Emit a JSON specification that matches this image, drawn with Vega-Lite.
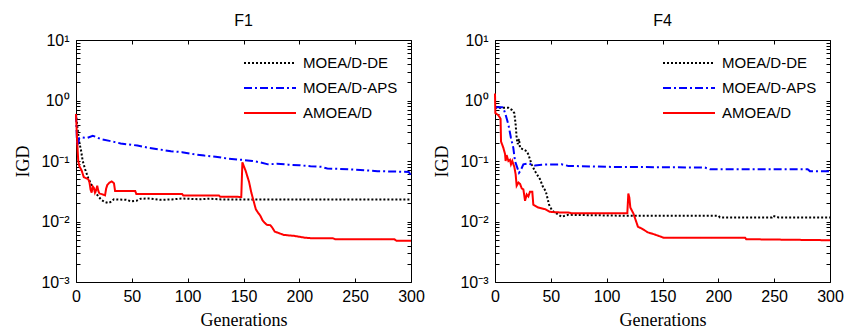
{
  "$schema": "https://vega.github.io/schema/vega-lite/v6.json",
  "background": "white",
  "padding": {"left": 14, "top": 12, "right": 5, "bottom": 0},
  "datasets": {
    "F1": [
      {"algo":"MOEA/D-DE","gen":0,"igd":0.6},{"algo":"MOEA/D-DE","gen":1,"igd":0.4},{"algo":"MOEA/D-DE","gen":2,"igd":0.28},{"algo":"MOEA/D-DE","gen":3,"igd":0.2},{"algo":"MOEA/D-DE","gen":4.5,"igd":0.15},{"algo":"MOEA/D-DE","gen":6,"igd":0.1},{"algo":"MOEA/D-DE","gen":8.4,"igd":0.071},{"algo":"MOEA/D-DE","gen":11,"igd":0.052},{"algo":"MOEA/D-DE","gen":14,"igd":0.04},{"algo":"MOEA/D-DE","gen":17,"igd":0.031},{"algo":"MOEA/D-DE","gen":20,"igd":0.026},{"algo":"MOEA/D-DE","gen":23,"igd":0.0225},{"algo":"MOEA/D-DE","gen":26,"igd":0.021},{"algo":"MOEA/D-DE","gen":29,"igd":0.0202},{"algo":"MOEA/D-DE","gen":31,"igd":0.021},{"algo":"MOEA/D-DE","gen":34,"igd":0.0233},{"algo":"MOEA/D-DE","gen":45,"igd":0.0228},{"algo":"MOEA/D-DE","gen":50,"igd":0.0215},{"algo":"MOEA/D-DE","gen":54,"igd":0.022},{"algo":"MOEA/D-DE","gen":58,"igd":0.0238},{"algo":"MOEA/D-DE","gen":66,"igd":0.024},{"algo":"MOEA/D-DE","gen":75,"igd":0.0228},{"algo":"MOEA/D-DE","gen":86,"igd":0.0232},{"algo":"MOEA/D-DE","gen":95,"igd":0.024},{"algo":"MOEA/D-DE","gen":110,"igd":0.0233},{"algo":"MOEA/D-DE","gen":120,"igd":0.0238},{"algo":"MOEA/D-DE","gen":130,"igd":0.0232},{"algo":"MOEA/D-DE","gen":150,"igd":0.0232},{"algo":"MOEA/D-DE","gen":300,"igd":0.0232},
      {"algo":"MOEA/D-APS","gen":0,"igd":0.6},{"algo":"MOEA/D-APS","gen":1,"igd":0.18},{"algo":"MOEA/D-APS","gen":2,"igd":0.2},{"algo":"MOEA/D-APS","gen":3,"igd":0.24},{"algo":"MOEA/D-APS","gen":6,"igd":0.245},{"algo":"MOEA/D-APS","gen":10,"igd":0.24},{"algo":"MOEA/D-APS","gen":15,"igd":0.26},{"algo":"MOEA/D-APS","gen":18,"igd":0.25},{"algo":"MOEA/D-APS","gen":22,"igd":0.23},{"algo":"MOEA/D-APS","gen":30,"igd":0.215},{"algo":"MOEA/D-APS","gen":35,"igd":0.205},{"algo":"MOEA/D-APS","gen":40,"igd":0.195},{"algo":"MOEA/D-APS","gen":50,"igd":0.185},{"algo":"MOEA/D-APS","gen":55,"igd":0.18},{"algo":"MOEA/D-APS","gen":65,"igd":0.165},{"algo":"MOEA/D-APS","gen":75,"igd":0.155},{"algo":"MOEA/D-APS","gen":85,"igd":0.145},{"algo":"MOEA/D-APS","gen":95,"igd":0.14},{"algo":"MOEA/D-APS","gen":105,"igd":0.13},{"algo":"MOEA/D-APS","gen":115,"igd":0.123},{"algo":"MOEA/D-APS","gen":125,"igd":0.118},{"algo":"MOEA/D-APS","gen":135,"igd":0.11},{"algo":"MOEA/D-APS","gen":145,"igd":0.106},{"algo":"MOEA/D-APS","gen":150,"igd":0.104},{"algo":"MOEA/D-APS","gen":158,"igd":0.1},{"algo":"MOEA/D-APS","gen":165,"igd":0.095},{"algo":"MOEA/D-APS","gen":172,"igd":0.088},{"algo":"MOEA/D-APS","gen":180,"igd":0.09},{"algo":"MOEA/D-APS","gen":190,"igd":0.087},{"algo":"MOEA/D-APS","gen":200,"igd":0.085},{"algo":"MOEA/D-APS","gen":210,"igd":0.082},{"algo":"MOEA/D-APS","gen":220,"igd":0.08},{"algo":"MOEA/D-APS","gen":225,"igd":0.075},{"algo":"MOEA/D-APS","gen":235,"igd":0.074},{"algo":"MOEA/D-APS","gen":250,"igd":0.072},{"algo":"MOEA/D-APS","gen":260,"igd":0.07},{"algo":"MOEA/D-APS","gen":270,"igd":0.068},{"algo":"MOEA/D-APS","gen":285,"igd":0.067},{"algo":"MOEA/D-APS","gen":298,"igd":0.066},{"algo":"MOEA/D-APS","gen":300,"igd":0.058},
      {"algo":"AMOEA/D","gen":0,"igd":0.6},{"algo":"AMOEA/D","gen":1,"igd":0.22},{"algo":"AMOEA/D","gen":2,"igd":0.1},{"algo":"AMOEA/D","gen":3,"igd":0.082},{"algo":"AMOEA/D","gen":5,"igd":0.07},{"algo":"AMOEA/D","gen":7,"igd":0.054},{"algo":"AMOEA/D","gen":9,"igd":0.052},{"algo":"AMOEA/D","gen":11,"igd":0.05},{"algo":"AMOEA/D","gen":12,"igd":0.045},{"algo":"AMOEA/D","gen":13,"igd":0.034},{"algo":"AMOEA/D","gen":14,"igd":0.03},{"algo":"AMOEA/D","gen":15,"igd":0.038},{"algo":"AMOEA/D","gen":16,"igd":0.036},{"algo":"AMOEA/D","gen":17,"igd":0.03},{"algo":"AMOEA/D","gen":18,"igd":0.033},{"algo":"AMOEA/D","gen":19,"igd":0.039},{"algo":"AMOEA/D","gen":20,"igd":0.032},{"algo":"AMOEA/D","gen":21,"igd":0.029},{"algo":"AMOEA/D","gen":24,"igd":0.028},{"algo":"AMOEA/D","gen":26,"igd":0.027},{"algo":"AMOEA/D","gen":27,"igd":0.035},{"algo":"AMOEA/D","gen":28,"igd":0.04},{"algo":"AMOEA/D","gen":30,"igd":0.044},{"algo":"AMOEA/D","gen":32,"igd":0.046},{"algo":"AMOEA/D","gen":34,"igd":0.043},{"algo":"AMOEA/D","gen":35,"igd":0.032},{"algo":"AMOEA/D","gen":53,"igd":0.032},{"algo":"AMOEA/D","gen":54,"igd":0.0285},{"algo":"AMOEA/D","gen":95,"igd":0.0285},{"algo":"AMOEA/D","gen":96,"igd":0.027},{"algo":"AMOEA/D","gen":128,"igd":0.027},{"algo":"AMOEA/D","gen":129,"igd":0.0257},{"algo":"AMOEA/D","gen":148,"igd":0.0255},{"algo":"AMOEA/D","gen":149,"igd":0.095},{"algo":"AMOEA/D","gen":150,"igd":0.085},{"algo":"AMOEA/D","gen":152,"igd":0.068},{"algo":"AMOEA/D","gen":155,"igd":0.045},{"algo":"AMOEA/D","gen":157,"igd":0.03},{"algo":"AMOEA/D","gen":159,"igd":0.022},{"algo":"AMOEA/D","gen":161,"igd":0.016},{"algo":"AMOEA/D","gen":163,"igd":0.014},{"algo":"AMOEA/D","gen":165,"igd":0.0125},{"algo":"AMOEA/D","gen":167,"igd":0.0105},{"algo":"AMOEA/D","gen":169,"igd":0.0095},{"algo":"AMOEA/D","gen":171,"igd":0.0088},{"algo":"AMOEA/D","gen":174,"igd":0.0087},{"algo":"AMOEA/D","gen":176,"igd":0.0078},{"algo":"AMOEA/D","gen":178,"igd":0.0068},{"algo":"AMOEA/D","gen":182,"igd":0.0064},{"algo":"AMOEA/D","gen":186,"igd":0.006},{"algo":"AMOEA/D","gen":195,"igd":0.0058},{"algo":"AMOEA/D","gen":200,"igd":0.0056},{"algo":"AMOEA/D","gen":205,"igd":0.0054},{"algo":"AMOEA/D","gen":210,"igd":0.0053},{"algo":"AMOEA/D","gen":230,"igd":0.0053},{"algo":"AMOEA/D","gen":232,"igd":0.0051},{"algo":"AMOEA/D","gen":285,"igd":0.0051},{"algo":"AMOEA/D","gen":287,"igd":0.0048},{"algo":"AMOEA/D","gen":300,"igd":0.0048}
    ],
    "F4": [
      {"algo":"MOEA/D-DE","gen":0,"igd":0.76},{"algo":"MOEA/D-DE","gen":12,"igd":0.76},{"algo":"MOEA/D-DE","gen":15,"igd":0.7},{"algo":"MOEA/D-DE","gen":17.3,"igd":0.62},{"algo":"MOEA/D-DE","gen":18.5,"igd":0.4},{"algo":"MOEA/D-DE","gen":19.4,"igd":0.24},{"algo":"MOEA/D-DE","gen":20.3,"igd":0.19},{"algo":"MOEA/D-DE","gen":21.5,"igd":0.23},{"algo":"MOEA/D-DE","gen":22.4,"igd":0.165},{"algo":"MOEA/D-DE","gen":25.4,"igd":0.155},{"algo":"MOEA/D-DE","gen":28.4,"igd":0.145},{"algo":"MOEA/D-DE","gen":29.9,"igd":0.128},{"algo":"MOEA/D-DE","gen":32.8,"igd":0.088},{"algo":"MOEA/D-DE","gen":35.8,"igd":0.068},{"algo":"MOEA/D-DE","gen":40.3,"igd":0.05},{"algo":"MOEA/D-DE","gen":43.3,"igd":0.036},{"algo":"MOEA/D-DE","gen":45.4,"igd":0.032},{"algo":"MOEA/D-DE","gen":48.4,"igd":0.019},{"algo":"MOEA/D-DE","gen":51.3,"igd":0.015},{"algo":"MOEA/D-DE","gen":56.7,"igd":0.013},{"algo":"MOEA/D-DE","gen":59.7,"igd":0.012},{"algo":"MOEA/D-DE","gen":65.7,"igd":0.0129},{"algo":"MOEA/D-DE","gen":119,"igd":0.0124},{"algo":"MOEA/D-DE","gen":200,"igd":0.0124},{"algo":"MOEA/D-DE","gen":201.5,"igd":0.0117},{"algo":"MOEA/D-DE","gen":248,"igd":0.0117},{"algo":"MOEA/D-DE","gen":249,"igd":0.0124},{"algo":"MOEA/D-DE","gen":254,"igd":0.0117},{"algo":"MOEA/D-DE","gen":300,"igd":0.0117},
      {"algo":"MOEA/D-APS","gen":0,"igd":0.77},{"algo":"MOEA/D-APS","gen":6.6,"igd":0.77},{"algo":"MOEA/D-APS","gen":7.5,"igd":0.75},{"algo":"MOEA/D-APS","gen":9.5,"igd":0.58},{"algo":"MOEA/D-APS","gen":12,"igd":0.4},{"algo":"MOEA/D-APS","gen":14.3,"igd":0.24},{"algo":"MOEA/D-APS","gen":16.4,"igd":0.165},{"algo":"MOEA/D-APS","gen":17.9,"igd":0.1},{"algo":"MOEA/D-APS","gen":19.4,"igd":0.083},{"algo":"MOEA/D-APS","gen":21.5,"igd":0.064},{"algo":"MOEA/D-APS","gen":23,"igd":0.07},{"algo":"MOEA/D-APS","gen":25.4,"igd":0.088},{"algo":"MOEA/D-APS","gen":29.9,"igd":0.091},{"algo":"MOEA/D-APS","gen":35.8,"igd":0.084},{"algo":"MOEA/D-APS","gen":41.8,"igd":0.087},{"algo":"MOEA/D-APS","gen":59.7,"igd":0.088},{"algo":"MOEA/D-APS","gen":65.7,"igd":0.083},{"algo":"MOEA/D-APS","gen":101,"igd":0.08},{"algo":"MOEA/D-APS","gen":188,"igd":0.078},{"algo":"MOEA/D-APS","gen":192.5,"igd":0.073},{"algo":"MOEA/D-APS","gen":280,"igd":0.073},{"algo":"MOEA/D-APS","gen":282,"igd":0.068},{"algo":"MOEA/D-APS","gen":300,"igd":0.068},
      {"algo":"AMOEA/D","gen":0,"igd":1.3},{"algo":"AMOEA/D","gen":0.3,"igd":0.62},{"algo":"AMOEA/D","gen":3,"igd":0.57},{"algo":"AMOEA/D","gen":5,"igd":0.5},{"algo":"AMOEA/D","gen":5.4,"igd":0.21},{"algo":"AMOEA/D","gen":7.5,"igd":0.165},{"algo":"AMOEA/D","gen":9,"igd":0.13},{"algo":"AMOEA/D","gen":9.5,"igd":0.1},{"algo":"AMOEA/D","gen":10.4,"igd":0.125},{"algo":"AMOEA/D","gen":12,"igd":0.1},{"algo":"AMOEA/D","gen":13.4,"igd":0.105},{"algo":"AMOEA/D","gen":14.3,"igd":0.088},{"algo":"AMOEA/D","gen":15.5,"igd":0.1},{"algo":"AMOEA/D","gen":17.3,"igd":0.08},{"algo":"AMOEA/D","gen":18.5,"igd":0.06},{"algo":"AMOEA/D","gen":19.4,"igd":0.039},{"algo":"AMOEA/D","gen":21,"igd":0.044},{"algo":"AMOEA/D","gen":22.4,"igd":0.042},{"algo":"AMOEA/D","gen":24,"igd":0.035},{"algo":"AMOEA/D","gen":25.4,"igd":0.034},{"algo":"AMOEA/D","gen":26.9,"igd":0.022},{"algo":"AMOEA/D","gen":28.4,"igd":0.028},{"algo":"AMOEA/D","gen":29.9,"igd":0.026},{"algo":"AMOEA/D","gen":31.3,"igd":0.031},{"algo":"AMOEA/D","gen":33.4,"igd":0.031},{"algo":"AMOEA/D","gen":34.3,"igd":0.019},{"algo":"AMOEA/D","gen":38.8,"igd":0.017},{"algo":"AMOEA/D","gen":44.8,"igd":0.016},{"algo":"AMOEA/D","gen":49,"igd":0.0145},{"algo":"AMOEA/D","gen":53.7,"igd":0.0142},{"algo":"AMOEA/D","gen":67,"igd":0.014},{"algo":"AMOEA/D","gen":68,"igd":0.0137},{"algo":"AMOEA/D","gen":118.5,"igd":0.0137},{"algo":"AMOEA/D","gen":119.4,"igd":0.029},{"algo":"AMOEA/D","gen":120.3,"igd":0.025},{"algo":"AMOEA/D","gen":121.2,"igd":0.017},{"algo":"AMOEA/D","gen":124,"igd":0.0135},{"algo":"AMOEA/D","gen":128,"igd":0.0082},{"algo":"AMOEA/D","gen":131,"igd":0.0077},{"algo":"AMOEA/D","gen":137,"igd":0.0066},{"algo":"AMOEA/D","gen":143,"igd":0.0061},{"algo":"AMOEA/D","gen":151,"igd":0.0054},{"algo":"AMOEA/D","gen":224,"igd":0.0054},{"algo":"AMOEA/D","gen":225,"igd":0.0051},{"algo":"AMOEA/D","gen":300,"igd":0.0049}
    ]
  },
  "config": {
    "view": {"stroke": "black", "strokeWidth": 1},
    "axis": {"grid": false, "domain": false, "tickColor": "black", "tickSize": -4, "tickWidth": 1, "labelFont": "Liberation Sans", "labelFontSize": 16, "labelColor": "black", "titleFont": "Liberation Serif", "titleFontSize": 18, "titleFontWeight": "normal", "titleColor": "black", "labelOverlap": false, "labelFlush": false},
    "legend": {"orient": "none", "legendX": 167, "legendY": 14, "padding": 0, "symbolType": "stroke", "symbolSize": 2704, "symbolStrokeWidth": 2, "clipHeight": 18, "labelFont": "Liberation Sans", "labelFontSize": 15, "labelColor": "black", "labelOffset": 6, "rowPadding": 7, "labelLimit": 200},
    "title": {"font": "Liberation Sans", "fontSize": 16, "fontWeight": "normal", "anchor": "middle", "color": "black", "frame": "group", "offset": 3},
    "line": {"clip": true}
  },
  "spacing": 8,
  "resolve": {"scale": {"color": "independent", "strokeDash": "independent", "strokeWidth": "independent"}, "legend": {"color": "independent", "strokeDash": "independent", "strokeWidth": "independent"}},
  "hconcat": [
    {
      "title": "F1",
      "width": 335, "height": 242,
      "data": {"name": "F1"},
      "layer": [
        {
          "mark": {"type": "line"},
          "encoding": {
            "x": {"field": "gen", "type": "quantitative", "scale": {"domain": [0, 300], "nice": false, "zero": false}, "axis": {"title": "Generations", "values": [0, 50, 100, 150, 200, 250, 300], "labelPadding": 10, "titlePadding": 7}},
            "y": {"field": "igd", "type": "quantitative", "scale": {"type": "log", "domain": [0.001, 10], "nice": false}, "axis": {"title": "IGD", "values": [0.001,0.002,0.003,0.004,0.005,0.006,0.007,0.008,0.009,0.01,0.02,0.03,0.04,0.05,0.06,0.07,0.08,0.09,0.1,0.2,0.3,0.4,0.5,0.6,0.7,0.8,0.9,1,2,3,4,5,6,7,8,9,10], "labelExpr": "datum.value == 10 ? '10¹' : datum.value == 1 ? '10⁰' : datum.value == 0.1 ? '10⁻¹' : datum.value == 0.01 ? '10⁻²' : datum.value == 0.001 ? '10⁻³' : ''", "labelPadding": 11, "titlePadding": 8}},
            "color": {"field": "algo", "type": "nominal", "scale": {"domain": ["MOEA/D-DE", "MOEA/D-APS", "AMOEA/D"], "range": ["#000000", "#0000ff", "#ff0000"]}, "legend": {"title": null}},
            "strokeDash": {"field": "algo", "type": "nominal", "scale": {"domain": ["MOEA/D-DE", "MOEA/D-APS", "AMOEA/D"], "range": [[2, 2], [8, 3, 2, 3], [1, 0]]}, "legend": {"title": null}},
            "strokeWidth": {"field": "algo", "type": "nominal", "scale": {"domain": ["MOEA/D-DE", "MOEA/D-APS", "AMOEA/D"], "range": [2, 2, 2.6]}, "legend": {"title": null}}
          }
        },
        {
          "mark": {"type": "line", "strokeOpacity": 0},
          "encoding": {
            "x": {"field": "gen", "type": "quantitative", "scale": {"domain": [0, 300], "nice": false, "zero": false}, "axis": {"orient": "top", "title": null, "labels": false, "values": [0, 50, 100, 150, 200, 250, 300]}},
            "y": {"field": "igd", "type": "quantitative", "scale": {"type": "log", "domain": [0.001, 10], "nice": false}, "axis": {"orient": "right", "title": null, "labels": false, "values": [0.001,0.002,0.003,0.004,0.005,0.006,0.007,0.008,0.009,0.01,0.02,0.03,0.04,0.05,0.06,0.07,0.08,0.09,0.1,0.2,0.3,0.4,0.5,0.6,0.7,0.8,0.9,1,2,3,4,5,6,7,8,9,10]}}
          }
        }
      ],
      "resolve": {"axis": {"x": "independent", "y": "independent"}}
    },
    {
      "title": "F4",
      "width": 335, "height": 242,
      "data": {"name": "F4"},
      "layer": [
        {
          "mark": {"type": "line"},
          "encoding": {
            "x": {"field": "gen", "type": "quantitative", "scale": {"domain": [0, 300], "nice": false, "zero": false}, "axis": {"title": "Generations", "values": [0, 50, 100, 150, 200, 250, 300], "labelPadding": 10, "titlePadding": 7}},
            "y": {"field": "igd", "type": "quantitative", "scale": {"type": "log", "domain": [0.001, 10], "nice": false}, "axis": {"title": "IGD", "values": [0.001,0.002,0.003,0.004,0.005,0.006,0.007,0.008,0.009,0.01,0.02,0.03,0.04,0.05,0.06,0.07,0.08,0.09,0.1,0.2,0.3,0.4,0.5,0.6,0.7,0.8,0.9,1,2,3,4,5,6,7,8,9,10], "labelExpr": "datum.value == 10 ? '10¹' : datum.value == 1 ? '10⁰' : datum.value == 0.1 ? '10⁻¹' : datum.value == 0.01 ? '10⁻²' : datum.value == 0.001 ? '10⁻³' : ''", "labelPadding": 11, "titlePadding": 8}},
            "color": {"field": "algo", "type": "nominal", "scale": {"domain": ["MOEA/D-DE", "MOEA/D-APS", "AMOEA/D"], "range": ["#000000", "#0000ff", "#ff0000"]}, "legend": {"title": null}},
            "strokeDash": {"field": "algo", "type": "nominal", "scale": {"domain": ["MOEA/D-DE", "MOEA/D-APS", "AMOEA/D"], "range": [[2, 2], [8, 3, 2, 3], [1, 0]]}, "legend": {"title": null}},
            "strokeWidth": {"field": "algo", "type": "nominal", "scale": {"domain": ["MOEA/D-DE", "MOEA/D-APS", "AMOEA/D"], "range": [2, 2, 2.6]}, "legend": {"title": null}}
          }
        },
        {
          "mark": {"type": "line", "strokeOpacity": 0},
          "encoding": {
            "x": {"field": "gen", "type": "quantitative", "scale": {"domain": [0, 300], "nice": false, "zero": false}, "axis": {"orient": "top", "title": null, "labels": false, "values": [0, 50, 100, 150, 200, 250, 300]}},
            "y": {"field": "igd", "type": "quantitative", "scale": {"type": "log", "domain": [0.001, 10], "nice": false}, "axis": {"orient": "right", "title": null, "labels": false, "values": [0.001,0.002,0.003,0.004,0.005,0.006,0.007,0.008,0.009,0.01,0.02,0.03,0.04,0.05,0.06,0.07,0.08,0.09,0.1,0.2,0.3,0.4,0.5,0.6,0.7,0.8,0.9,1,2,3,4,5,6,7,8,9,10]}}
          }
        }
      ],
      "resolve": {"axis": {"x": "independent", "y": "independent"}}
    }
  ]
}
